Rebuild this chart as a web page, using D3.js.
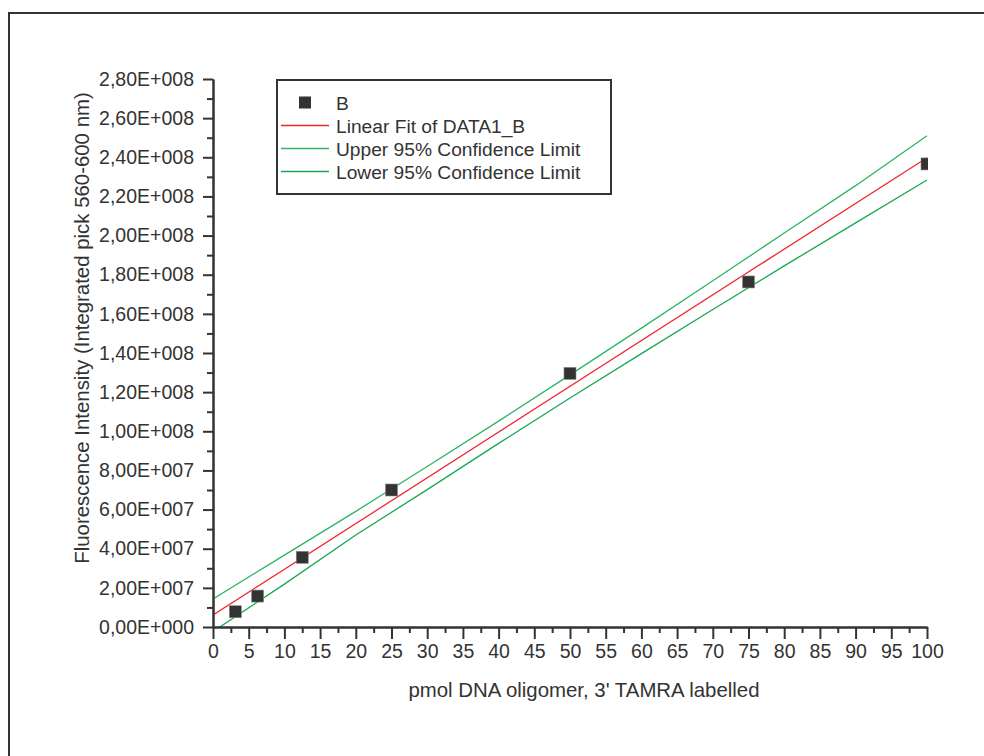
<!DOCTYPE html>
<html>
<head>
<meta charset="utf-8">
<script src="https://cdn.jsdelivr.net/npm/d3@7"></script>
<style>
  body { margin: 0; background: #fff; }
  text { font-family: "Liberation Sans", Arial, sans-serif; fill: #333; }
</style>
</head>
<body>
<svg id="chart" width="984" height="756"></svg>
<script>
// measured points (pmol, intensity)
let pmol = [3.125, 6.25, 12.5, 25, 50, 75, 100];
let intensity = [7.8e6, 15.8e6, 35.6e6, 70.0e6, 129.6e6, 176.3e6, 236.6e6];

// linear fit and confidence limits
let fitX = [0, 100];
let fitY = [6.1e6, 239.8e6];
let limitX = [0, 10, 20, 30, 40, 50, 60, 70, 80, 90, 100];
let upperY = [14.3e6, 36.7e6, 59.1e6, 82.0e6, 105.2e6, 128.8e6, 152.7e6, 176.9e6, 201.3e6, 225.5e6, 251.0e6];
let lowerY = [-2.3e6, 21.9e6, 47.0e6, 70.2e6, 93.8e6, 117.0e6, 139.7e6, 162.2e6, 184.5e6, 206.5e6, 228.4e6];

let xTicks = d3.range(0, 101, 5);
let yTicks = d3.range(0, 2.81e8, 2e7);
let yTickLabels = ['0,00E+000', '2,00E+007', '4,00E+007', '6,00E+007', '8,00E+007',
  '1,00E+008', '1,20E+008', '1,40E+008', '1,60E+008', '1,80E+008', '2,00E+008',
  '2,20E+008', '2,40E+008', '2,60E+008', '2,80E+008'];

let legendLabels = ['B', 'Linear Fit of DATA1_B', 'Upper 95% Confidence Limit', 'Lower 95% Confidence Limit'];

let svg = d3.select('#chart');

let x = d3.scaleLinear().domain([0, 100]).range([213, 927]);
let y = d3.scaleLinear().domain([0, 2.8e8]).range([627, 79]);

// outer frame
svg.append('rect')
  .attr('x', 9).attr('y', 13)
  .attr('width', 1000).attr('height', 800)
  .attr('fill', 'none').attr('stroke', '#333').attr('stroke-width', 2);

svg.append('clipPath').attr('id', 'plotclip')
  .append('rect')
  .attr('x', 213).attr('y', 79)
  .attr('width', 715).attr('height', 548);

let plot = svg.append('g').attr('clip-path', 'url(#plotclip)');

let line = d3.line()
  .x(function(d){return x(d[0])})
  .y(function(d){return y(d[1])});

plot.append('path')
  .datum(d3.zip(limitX, upperY))
  .attr('d', line)
  .attr('fill', 'none').attr('stroke', '#2db465').attr('stroke-width', 1.3);
plot.append('path')
  .datum(d3.zip(limitX, lowerY))
  .attr('d', line)
  .attr('fill', 'none').attr('stroke', '#19a852').attr('stroke-width', 1.3);
plot.append('path')
  .datum(d3.zip(fitX, fitY))
  .attr('d', line)
  .attr('fill', 'none').attr('stroke', '#f0262c').attr('stroke-width', 1.3);

plot.selectAll('rect.pt')
  .data(d3.zip(pmol, intensity))
  .join('rect')
  .attr('class', 'pt')
  .attr('x', function(d){return x(d[0]) - 6})
  .attr('y', function(d){return y(d[1]) - 6})
  .attr('width', 12).attr('height', 12)
  .attr('fill', '#333')
  .attr('stroke', '#888').attr('stroke-width', 0.6);

// axes
let xMinor = d3.range(2.5, 100, 5);
let yMinor = d3.range(1e7, 2.8e8, 2e7);

svg.append('g')
  .attr('transform', 'translate(0,627)')
  .call(d3.axisBottom(x).tickValues(xTicks).tickSize(12).tickPadding(5).tickSizeOuter(0));
svg.append('g')
  .attr('transform', 'translate(0,627)')
  .call(d3.axisBottom(x).tickValues(xMinor).tickSize(6).tickFormat('').tickSizeOuter(0));

svg.append('g')
  .attr('transform', 'translate(213,0)')
  .call(d3.axisLeft(y).tickValues(yTicks).tickSize(10)
    .tickFormat(function(d,i){return yTickLabels[i]}).tickPadding(9).tickSizeOuter(0));
svg.append('g')
  .attr('transform', 'translate(213,0)')
  .call(d3.axisLeft(y).tickValues(yMinor).tickSize(6).tickFormat('').tickSizeOuter(0));

svg.selectAll('.domain, .tick line')
  .attr('stroke', '#333').attr('stroke-width', 2);
svg.selectAll('.tick text')
  .attr('fill', '#333')
  .style('font-size', '19.5px')
  .style('font-family', '"Liberation Sans", Arial, sans-serif');

// axis titles
svg.append('text')
  .attr('x', 584).attr('y', 697)
  .attr('text-anchor', 'middle')
  .style('font-size', '20.4px')
  .text("pmol DNA oligomer, 3' TAMRA labelled");

svg.append('text')
  .attr('transform', 'translate(89,328) rotate(-90)')
  .attr('text-anchor', 'middle')
  .style('font-size', '20.4px')
  .text('Fluorescence Intensity (Integrated pick 560-600 nm)');

// legend
let legend = svg.append('g');
legend.append('rect')
  .attr('x', 277).attr('y', 80)
  .attr('width', 334).attr('height', 114)
  .attr('fill', '#fff').attr('stroke', '#333').attr('stroke-width', 2);

let legendColors = [null, '#f0262c', '#2db465', '#19a852'];
legendLabels.forEach(function(label, i) {
  let cy = 102.5 + i * 23;
  if (i === 0) {
    legend.append('rect')
      .attr('x', 299).attr('y', cy - 6)
      .attr('width', 12).attr('height', 12)
      .attr('fill', '#333');
  } else {
    legend.append('line')
      .attr('x1', 281).attr('x2', 329)
      .attr('y1', cy).attr('y2', cy)
      .attr('stroke', legendColors[i]).attr('stroke-width', 1.3);
  }
  legend.append('text')
    .attr('x', 336).attr('y', cy + 7)
    .style('font-size', '19.2px')
    .text(label);
});
</script>
</body>
</html>
